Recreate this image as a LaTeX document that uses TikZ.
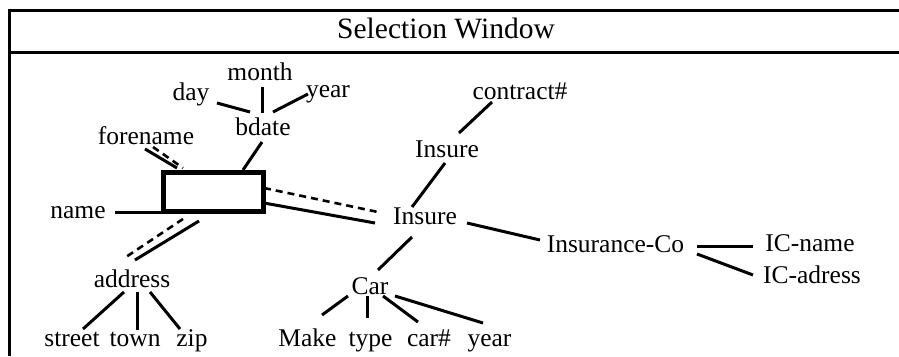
\documentclass[tikz,border=0pt]{standalone}
\usepackage{fontspec}
\setmainfont{Liberation Serif}
\begin{document}
\begin{tikzpicture}[x=1pt,y=-1pt,
  lbl/.style={inner sep=0pt,anchor=base,font=\fontsize{25.5}{28}\selectfont},
  conn/.style={line width=3pt},
  dconn/.style={line width=2.6pt,dash pattern=on 7pt off 5pt},
  frame/.style={line width=3pt}]
\useasboundingbox (0,0) rectangle (899,356);
% frame
\coordinate (ftl) at (9,10);
\coordinate (ftr) at (899,10);
\coordinate (fhl) at (9,52);
\coordinate (fhr) at (899,52);
\coordinate (fbl) at (9,356);
\draw[frame] (ftr) -- (ftl) -- (fbl);
\draw[frame] (fhl) -- (fhr);
\node[inner sep=0pt,anchor=base,font=\fontsize{29.5}{32}\selectfont] (title) at (446,38) {Selection Window};
% central box
\node[draw,line width=5pt,minimum width=100pt,minimum height=39pt,inner sep=0pt] (box) at (213.5,192) {};
% labels
\node[lbl] (month) at (260,80) {month};
\node[lbl] (day) at (191,100) {day};
\node[lbl] (year1) at (328,97) {year};
\node[lbl] (bdate) at (263,135) {bdate};
\node[lbl] (forename) at (146,144) {forename};
\node[lbl] (name) at (78,218) {name};
\node[lbl] (address) at (132,287) {address};
\node[lbl] (street) at (72,346) {street};
\node[lbl] (town) at (135,346) {town};
\node[lbl] (zip) at (192,346) {zip};
\node[lbl] (car) at (370,294) {Car};
\node[lbl] (make) at (307.5,346) {Make};
\node[lbl] (type) at (370.5,346) {type};
\node[lbl] (carno) at (429,346) {car\#};
\node[lbl] (year2) at (489.5,346) {year};
\node[lbl] (insure) at (425,224) {Insure};
\node[lbl] (insure2) at (447,157) {Insure};
\node[lbl] (contract) at (520,99) {contract\#};
\node[lbl] (insco) at (615.5,252) {Insurance-Co};
\node[lbl] (icname) at (810,251) {IC-name};
\node[lbl] (icadr) at (812,283) {IC-adress};
% connectors
\draw[conn] ([shift={(26,3)}]day.base) -- ([shift={(-13,-23)}]bdate.base);
\draw[conn] ([shift={(2,7)}]month.base) -- ([shift={(-1,-22)}]bdate.base);
\draw[conn] ([shift={(-20,-3)}]year1.base) -- ([shift={(10,-23)}]bdate.base);
\draw[conn] ([shift={(-1,7)}]bdate.base) -- ([shift={(29.5,-22)}]box.center);
\draw[conn] ([shift={(-1,5)}]forename.base) -- ([shift={(-36.5,-24)}]box.center);
\draw[dconn] ([shift={(7,3)}]forename.base) -- ([shift={(-30.5,-24)}]box.center);
\draw[conn] ([shift={(37,-6)}]name.base) -- ([shift={(-52.5,20)}]box.center);
\draw[dconn] ([shift={(50.5,-4)}]box.center) -- ([shift={(-47,-12)}]insure.base);
\draw[conn] ([shift={(50.5,11)}]box.center) -- ([shift={(-50,-1)}]insure.base);
\draw[conn] ([shift={(-14.5,29)}]box.center) -- ([shift={(3,-27)}]address.base);
\draw[dconn] ([shift={(-30.5,27)}]box.center) -- ([shift={(-6,-30)}]address.base);
\draw[conn] ([shift={(-8,5)}]address.base) -- ([shift={(11,-17)}]street.base);
\draw[conn] ([shift={(5,5)}]address.base) -- ([shift={(2,-16)}]town.base);
\draw[conn] ([shift={(18,5)}]address.base) -- ([shift={(-12,-17)}]zip.base);
\draw[conn] ([shift={(-13,13)}]insure.base) -- ([shift={(8,-24)}]car.base);
\draw[conn] ([shift={(-13,-17)}]insure.base) -- ([shift={(-2,6)}]insure2.base);
\draw[conn] ([shift={(12,-24)}]insure2.base) -- ([shift={(-28,3)}]contract.base);
\draw[conn] ([shift={(42,-1)}]insure.base) -- ([shift={(-75.5,-12)}]insco.base);
\draw[conn] ([shift={(81.5,-6)}]insco.base) -- ([shift={(-57,-5)}]icname.base);
\draw[conn] ([shift={(81.5,2)}]insco.base) -- ([shift={(-59,-8)}]icadr.base);
\draw[conn] ([shift={(-22,2)}]car.base) -- ([shift={(14.5,-31)}]make.base);
\draw[conn] ([shift={(-3,2)}]car.base) -- ([shift={(-3.5,-28)}]type.base);
\draw[conn] ([shift={(13,2)}]car.base) -- ([shift={(-11,-24)}]carno.base);
\draw[conn] ([shift={(25,2)}]car.base) -- ([shift={(-6.5,-23)}]year2.base);
\end{tikzpicture}
\end{document}
